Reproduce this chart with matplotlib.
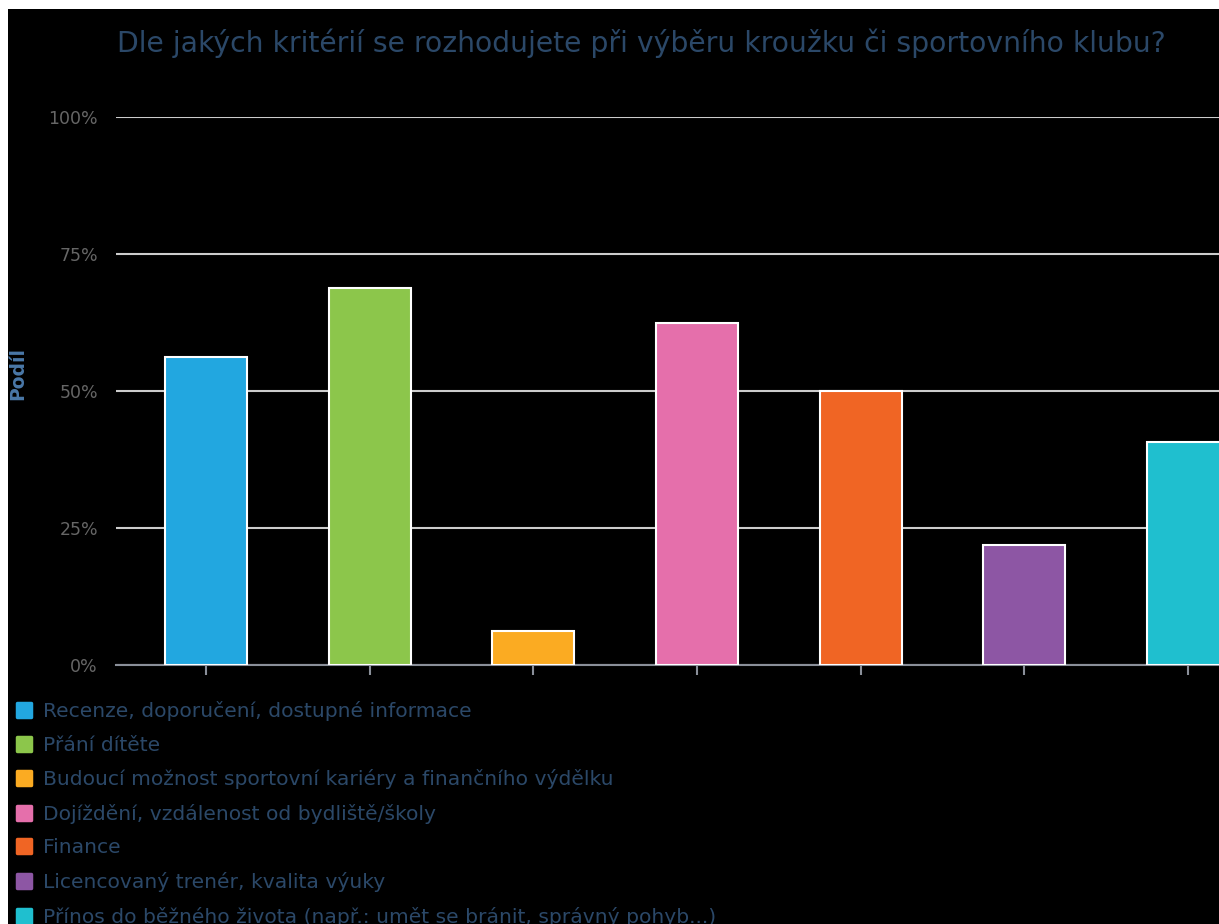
import matplotlib
matplotlib.use("Agg")
import matplotlib.pyplot as plt
from matplotlib.patches import Rectangle
from matplotlib.lines import Line2D
from matplotlib.markers import MarkerStyle
from matplotlib.ticker import PercentFormatter

# data
categories = [
    "Recenze, doporučení, dostupné informace",
    "Přání dítěte",
    "Budoucí možnost sportovní kariéry a finančního výdělku",
    "Dojíždění, vzdálenost od bydliště/školy",
    "Finance",
    "Licencovaný trenér, kvalita výuky",
    "Přínos do běžného života (např.: umět se bránit, správný pohyb...)",
]
shares = [0.5625, 0.6875, 0.0625, 0.625, 0.50, 0.21875, 0.40625]
colors = ["#22a7e0", "#8cc64b", "#fbab22", "#e56fab", "#f06524", "#8d56a4", "#1fbfcf"]
yticks = [0, 0.25, 0.5, 0.75, 1.0]

title = "Dle jakých kritérií se rozhodujete při výběru kroužku či sportovního klubu?"
text_col = "#2b4868"

fig = plt.figure(figsize=(12.19, 9.24), dpi=100)
fig.patch.set_facecolor("white")
# black canvas with a thin white margin at top and left
fig.add_artist(Rectangle((8 / 1219, 0), 1, 1 - 9 / 924, transform=fig.transFigure,
                         facecolor="black", edgecolor="none", zorder=-10))

ax = fig.add_axes([116 / 1219, 1 - 665 / 924, 1 - 116 / 1219, (665 - 117) / 924])
ax.set_facecolor("black")

x = list(range(len(shares)))
ax.bar(x, shares, width=0.5, color=colors, edgecolor="white", linewidth=1.5, zorder=3)

ax.set_ylim(0, 1)
ax.set_xlim(-0.55, 6.19)
ax.set_yticks(yticks)
ax.yaxis.set_major_formatter(PercentFormatter(1.0, decimals=0))
ax.grid(axis="y", color="#cccccc", linewidth=1.5, zorder=0)
ax.set_xticks(x)
ax.set_xticklabels([])
ax.tick_params(axis="x", length=7, width=1.5, color="#8a8f99", direction="out")
ax.tick_params(axis="y", length=0, labelsize=12.5, labelcolor="#666666", pad=13)

for s in ["top", "right", "left"]:
    ax.spines[s].set_visible(False)
ax.spines["bottom"].set_color("#8a8f99")
ax.spines["bottom"].set_linewidth(1.5)

fig.text(18 / 1219, 1 - 373 / 924, "Podíl", rotation=90, ha="center", va="center",
         fontsize=13.5, fontweight="bold", color="#4a78a8")

fig.text(641 / 1219, 1 - 43 / 924, title, ha="center", va="center",
         fontsize=20.3, color=text_col)

rsq = MarkerStyle("s", joinstyle="round")
handles = [Line2D([], [], marker=rsq, linestyle="none", markersize=9.5,
                  markeredgewidth=2.5, markerfacecolor=c, markeredgecolor=c)
           for c in colors]
leg = fig.legend(handles, categories, loc="upper left",
                 bbox_to_anchor=(12 / 1219, 1 - 697 / 924),
                 frameon=False, fontsize=14.6, labelcolor=text_col,
                 handlelength=0.8, handletextpad=0.55, labelspacing=0.72,
                 borderaxespad=0, borderpad=0.2)

fig.savefig("out.png", dpi=100, facecolor=fig.get_facecolor())
